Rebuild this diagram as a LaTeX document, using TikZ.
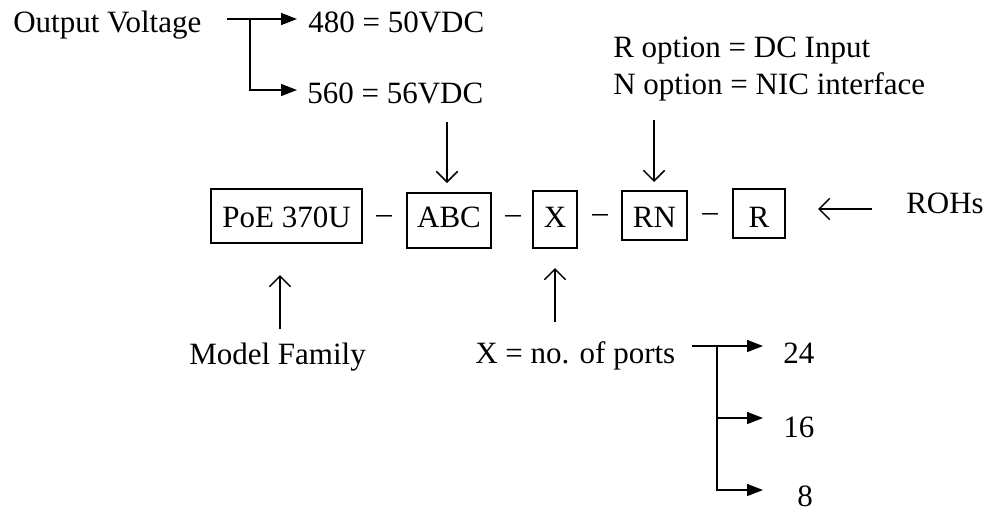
\documentclass[tikz,border=0pt]{standalone}
\usepackage{fontspec}
\setmainfont{Liberation Serif}
\usetikzlibrary{arrows.meta}
\begin{document}
\begin{tikzpicture}[x=0.75pt,y=-0.75pt,
  every node/.style={font=\fontsize{23.25}{28}\selectfont},
  lbl/.style={inner sep=0pt,anchor=base west},
  codebox/.style={draw,line width=1.5pt,inner sep=0pt,text depth=0pt},
  dashsym/.style={inner sep=0pt},
  branch/.style={line width=1.1pt,-{Triangle[length=12pt,width=9pt]}},
  pointer/.style={line width=1.1pt,-{Straight Barb[length=8pt,width=16pt,line width=1.1pt]}}
]
\useasboundingbox (0,0) rectangle (987,512);

% top-left: output voltage
\node[lbl] (ov) at (13,32) {Output Voltage};
\node[lbl] (v480) at (308,32) {480 = 50VDC};
\node[lbl] (v560) at (307,103) {560 = 56VDC};
\coordinate (ovS) at (227,19);
\coordinate (ovJ) at (250,19);
\coordinate (ovT1) at (297,19);
\coordinate (ovT2) at (297,90);
\draw[branch] (ovS) -- (ovT1);
\draw[branch] (ovJ) |- (ovT2);

% top-right: options
\node[lbl] (ropt) at (613,57) {R option = DC Input};
\node[lbl] (nopt) at (613,94) {N option = NIC interface};

% main code boxes
\node[codebox,text height=16.5pt,minimum width=113.25pt,minimum height=40.5pt] (poe) at (286.5,216) {PoE 370U};
\node[dashsym] (d1) at (384,219) {–};
\node[codebox,text height=9.75pt,minimum width=63pt,minimum height=41.25pt] (abc) at (449,220.5) {ABC};
\node[dashsym] (d2) at (513,219) {–};
\node[codebox,text height=11.25pt,minimum width=33pt,minimum height=42.75pt] (xb) at (555,219.5) {X};
\node[dashsym] (d3) at (600,218) {–};
\node[codebox,text height=17.25pt,minimum width=48.75pt,minimum height=36.75pt] (rn) at (654.5,215.5) {RN};
\node[dashsym] (d4) at (710,217) {–};
\node[codebox,text height=20.25pt,minimum width=39pt,minimum height=36.75pt] (rb) at (759,213.5) {R\hspace{6pt}};

% ROHs
\node[lbl] (rohs) at (906,213) {ROHs};
\coordinate (rohsA) at (872,209);
\coordinate (rohsB) at (818,209);
\draw[pointer] (rohsA) -- (rohsB);

% pointers from above
\coordinate (abcA) at (447,122);
\coordinate (abcB) at (447,183);
\draw[pointer] (abcA) -- (abcB);
\coordinate (rnA) at (654,120);
\coordinate (rnB) at (654,182);
\draw[pointer] (rnA) -- (rnB);

% bottom labels
\node[lbl] (mf) at (189,364) {Model Family};
\coordinate (mfA) at (280,329);
\coordinate (mfB) at (280,275);
\draw[pointer] (mfA) -- (mfB);

\node[lbl] (ports) at (475,363) {X = no. of ports};
\coordinate (xA) at (555,322);
\coordinate (xB) at (555,268);
\draw[pointer] (xA) -- (xB);

\node[lbl] (p24) at (783,363) {24};
\node[lbl] (p16) at (783,437) {16};
\node[lbl] (p8) at (797,506) {8};
\coordinate (pS) at (692,346);
\coordinate (pJ) at (717,346);
\coordinate (pM) at (717,418);
\coordinate (pT1) at (763,346);
\coordinate (pT2) at (763,418);
\coordinate (pT3) at (763,490);
\draw[branch] (pS) -- (pT1);
\draw[branch] (pM) -- (pT2);
\draw[branch] (pJ) |- (pT3);
\end{tikzpicture}
\end{document}
